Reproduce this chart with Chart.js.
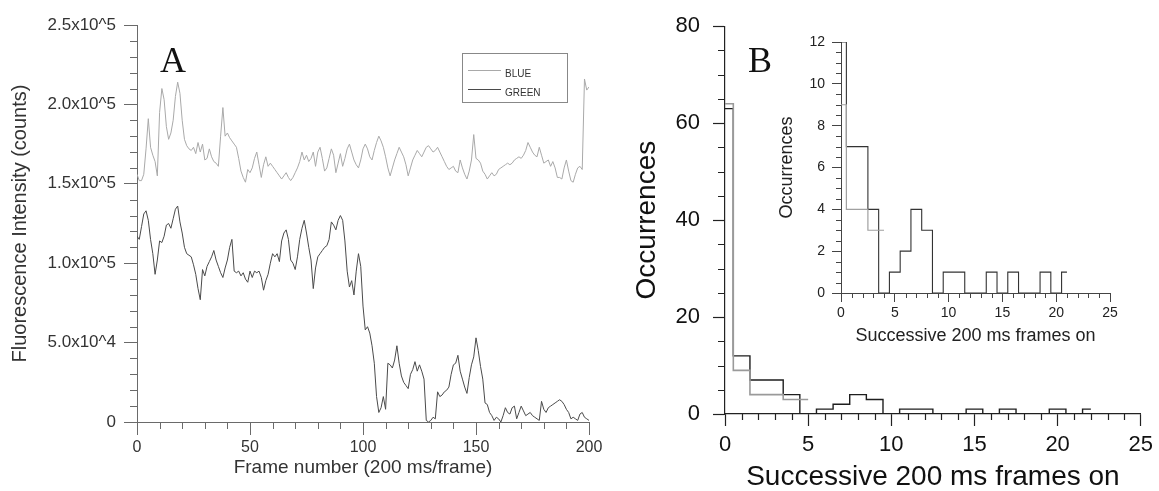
<!DOCTYPE html>
<html><head><meta charset="utf-8">
<script src="https://cdn.jsdelivr.net/npm/chart.js@4.4.1/dist/chart.umd.min.js"></script>
<style>
html,body{margin:0;padding:0;background:#fff;}
#wrap{position:relative;width:1159px;height:491px;overflow:hidden;background:#fff;}
canvas{position:absolute;top:0;}
.lbl{position:absolute;font-family:'Liberation Serif','Times New Roman',serif;font-size:36px;line-height:36px;color:#111;}
#legend{position:absolute;left:462px;top:53px;width:104px;height:48px;border:1px solid #888;font-family:'Liberation Sans',Arial,sans-serif;font-size:10px;color:#333;}
#legend .ln{position:absolute;left:5px;width:33px;height:0;border-top:1px solid;}
#legend .tx{position:absolute;left:42px;line-height:12px;}
</style></head>
<body><div id="wrap">
<canvas id="cA" width="620" height="491" style="left:0"></canvas>
<canvas id="cB" width="559" height="491" style="left:600px"></canvas>
<canvas id="cI" width="399" height="350" style="left:760px"></canvas>
<div class="lbl" style="left:160px;top:42px">A</div>
<div class="lbl" style="left:748px;top:42px">B</div>
<div id="legend">
  <div class="ln" style="top:16px;border-color:#a9a9a9"></div><div class="tx" style="top:14px">BLUE</div>
  <div class="ln" style="top:35px;border-color:#4a4a4a"></div><div class="tx" style="top:33px">GREEN</div>
</div>
</div>
<script>
// ---------- Panel A data (fluorescence counts, in thousands) ----------
const blueCounts = [
156,152,152,156,172,191,173,168,164,155,195,210,203,186,178,182,190,205,214,207,
190,178,174,172,171,173,169,176,170,175,165,166,172,167,164,163,161,180,198,180,
182,179,177,175,173,166,158,154,151,159,157,160,166,170,162,154,162,167,161,163,
161,159,157,155,153,155,157,154,152,154,157,160,164,170,165,168,164,166,170,161,
170,173,166,158,160,166,172,168,157,163,169,161,166,172,175,170,165,162,160,165,
172,175,172,167,165,171,176,180,177,173,167,160,155,160,165,169,173,170,167,162,
155,160,165,168,171,169,167,170,173,174,172,170,171,173,170,167,164,161,159,160,
161,158,157,165,160,156,153,158,165,181,166,165,163,158,156,153,155,157,155,156,
159,160,161,162,163,162,163,165,166,167,166,168,171,176,173,170,168,167,173,168,
163,164,165,161,164,160,154,154,153,160,165,158,152,151,156,160,161,159,216,209,
211];
const greenCounts = [
117,115,123,131,133,127,115,106,93,102,114,113,117,124,125,122,128,134,136,126,
119,110,106,105,104,99,93,84,77,96,92,98,101,104,108,102,98,94,91,97,
102,110,115,95,94,95,92,94,90,88,95,91,95,94,95,91,83,89,93,100,
106,104,106,101,114,119,121,115,102,100,96,104,115,122,127,119,110,102,84,97,
104,106,108,110,111,115,126,124,121,127,130,127,114,95,85,89,80,95,106,98,
73,58,60,56,48,37,16,6,9,16,8,37,36,34,39,48,37,29,25,23,
21,30,33,38,32,36,32,27,1,0,1,3,2,19,16,17,19,20,22,30,
36,37,42,32,27,22,18,28,36,41,53,45,35,27,12,11,6,4,1,3,
2,0,4,9,6,5,9,10,2,6,10,7,4,5,6,4,3,2,1,13,
8,6,9,10,11,12,13,14,13,11,8,6,2,3,2,1,5,6,3,2,
1];
const frames = blueCounts.map((_, i) => i);
const yTickValuesA = [0, 50, 100, 150, 200, 250];
const yTickLabelsA = ['0', '5.0x10^4', '1.0x10^5', '1.5x10^5', '2.0x10^5', '2.5x10^5'];
const seriesNamesA = ['BLUE', 'GREEN'];

// ---------- Panel B data (histograms) ----------
const binsMain = [0,1,2,3,4,5,6,7,8,9,10,11,12,13,14,15,16,17,18,19,20,21,22];
const blackMain = [63,12,7,7,4,0,1,2,4,3,0,1,1,0,0,1,0,1,0,0,1,0,1];
const binsGreyMain = [0,1,2,3,4,5];
const greyMain = [64,9,4,4,3,3];
const binsInset = [0,1,2,3,4,5,6,7,8,9,10,11,12,13,14,15,16,17,18,19,20,21];
const blackInset = [12,7,7,4,0,1,2,4,3,0,1,1,0,0,1,0,1,0,0,1,0,1];
const binsGreyInset = [0,1,2,3,4];
const greyInset = [9,4,4,3,3];

Chart.defaults.font.family = "'Liberation Sans', Arial, Helvetica, sans-serif";
Chart.defaults.color = '#222';

const minorTicks = {
  id: 'minorTicks',
  afterDraw(chart, args, opts) {
    const ctx = chart.ctx;
    ctx.save();
    ctx.strokeStyle = opts.color || '#555';
    ctx.lineWidth = opts.width || 1;
    for (const id of ['x', 'y']) {
      const cfg = opts[id];
      if (!cfg) continue;
      const s = chart.scales[id];
      ctx.beginPath();
      for (let v = s.min; v <= s.max + 1e-9; v += cfg.step) {
        const r = v / cfg.major;
        if (Math.abs(r - Math.round(r)) < 1e-6) continue;
        const p = Math.round(s.getPixelForValue(v)) + 0.5;
        if (id === 'x') { ctx.moveTo(p, s.top); ctx.lineTo(p, s.top + cfg.len); }
        else { ctx.moveTo(s.right, p); ctx.lineTo(s.right - cfg.len, p); }
      }
      ctx.stroke();
    }
    ctx.restore();
  }
};

function pts(xs, ys) { return xs.map((x, i) => ({ x: x, y: ys[i] })); }

function axisStyle(color, tickLen, width) {
  return {
    grid: { drawOnChartArea: false, drawTicks: true, tickLength: tickLen, color: color, tickColor: color, tickWidth: width },
    border: { display: true, color: color, width: width }
  };
}

// ---------- Panel A ----------
const axA = '#6a6a6a';
new Chart(document.getElementById('cA'), {
  type: 'line',
  data: { datasets: [
    { label: seriesNamesA[0], data: pts(frames, blueCounts), borderColor: '#a9a9a9', borderWidth: 1, pointRadius: 0, tension: 0 },
    { label: seriesNamesA[1], data: pts(frames, greenCounts), borderColor: '#4a4a4a', borderWidth: 1, pointRadius: 0, tension: 0 }
  ]},
  options: {
    responsive: false, animation: false, devicePixelRatio: 1,
    layout: { padding: { top: 25, right: 31, bottom: 0, left: 0 } },
    plugins: { legend: { display: false }, tooltip: { enabled: false },
      minorTicks: { color: axA, x: { step: 10, major: 50, len: 7 }, y: { step: 10, major: 50, len: 7 } } },
    scales: {
      x: Object.assign({ type: 'linear', min: 0, max: 200,
        afterFit: s => { s.height = 69; },
        ticks: { stepSize: 50, font: { size: 16 }, color: '#333', padding: 3, maxRotation: 0 },
        title: { display: true, text: 'Frame number (200 ms/frame)', font: { size: 19 }, color: '#333', padding: { top: 0, bottom: 12 } }
      }, axisStyle(axA, 13, 1)),
      y: Object.assign({ type: 'linear', min: 0, max: 250,
        afterFit: s => { s.width = 137; },
        ticks: { stepSize: 50, font: { size: 17 }, color: '#333', padding: 8,
          callback: v => { const i = yTickValuesA.indexOf(v); return i >= 0 ? yTickLabelsA[i] : ''; } },
        title: { display: true, text: 'Fluorescence Intensity (counts)', font: { size: 20 }, color: '#333', padding: { top: 8, bottom: 0 } }
      }, axisStyle(axA, 13, 1))
    }
  },
  plugins: [minorTicks]
});

// ---------- Panel B main ----------
const axB = '#222';
new Chart(document.getElementById('cB'), {
  type: 'line',
  data: { datasets: [
    { data: pts(binsGreyMain, greyMain), stepped: 'middle', borderColor: '#9a9a9a', borderWidth: 1.6, pointRadius: 0 },
    { data: pts(binsMain, blackMain), stepped: 'middle', borderColor: '#1e1e1e', borderWidth: 1.4, pointRadius: 0 }
  ]},
  options: {
    responsive: false, animation: false, devicePixelRatio: 1,
    layout: { padding: { top: 25, right: 16, bottom: 0, left: 0 } },
    plugins: { legend: { display: false }, tooltip: { enabled: false },
      minorTicks: { color: axB, width: 1.2, x: { step: 1, major: 5, len: 6 }, y: { step: 5, major: 20, len: 7 } } },
    scales: {
      x: Object.assign({ type: 'linear', min: 0, max: 25,
        afterFit: s => { s.height = 77; },
        ticks: { stepSize: 5, font: { size: 22 }, color: '#111', padding: 6, maxRotation: 0 },
        title: { display: true, text: 'Successive 200 ms frames on', font: { size: 28 }, color: '#111', padding: { top: 0, bottom: -3 } }
      }, axisStyle(axB, 12, 1.2)),
      y: Object.assign({ type: 'linear', min: 0, max: 80,
        afterFit: s => { s.width = 125; },
        ticks: { stepSize: 20, font: { size: 22 }, color: '#111', padding: 13 },
        title: { display: true, text: 'Occurrences', font: { size: 28 }, color: '#111', padding: { top: 30, bottom: 0 } }
      }, axisStyle(axB, 12, 1.2))
    }
  },
  plugins: [minorTicks]
});

// ---------- Panel B inset ----------
new Chart(document.getElementById('cI'), {
  type: 'line',
  data: { datasets: [
    { data: pts(binsGreyInset, greyInset), stepped: 'middle', borderColor: '#a0a0a0', borderWidth: 1.2, pointRadius: 0 },
    { data: pts(binsInset, blackInset), stepped: 'middle', borderColor: '#333', borderWidth: 1.1, pointRadius: 0 }
  ]},
  options: {
    responsive: false, animation: false, devicePixelRatio: 1,
    layout: { padding: { top: 42, right: 49, bottom: 0, left: 0 } },
    plugins: { legend: { display: false }, tooltip: { enabled: false },
      minorTicks: { color: '#444', x: { step: 1, major: 5, len: 5 }, y: { step: 0.5, major: 2, len: 5 } } },
    scales: {
      x: Object.assign({ type: 'linear', min: 0, max: 25,
        afterFit: s => { s.height = 57; },
        ticks: { stepSize: 5, font: { size: 14 }, color: '#222', padding: 3, maxRotation: 0 },
        title: { display: true, text: 'Successive 200 ms frames on', font: { size: 18 }, color: '#222', padding: { top: 0, bottom: 3 } }
      }, axisStyle('#444', 9, 1)),
      y: Object.assign({ type: 'linear', min: 0, max: 12,
        afterFit: s => { s.width = 81; },
        ticks: { stepSize: 2, font: { size: 14 }, color: '#222', padding: 7 },
        title: { display: true, text: 'Occurrences', font: { size: 18 }, color: '#222', padding: { top: 16, bottom: 0 } }
      }, axisStyle('#444', 9, 1))
    }
  },
  plugins: [minorTicks]
});
</script>
</body></html>
